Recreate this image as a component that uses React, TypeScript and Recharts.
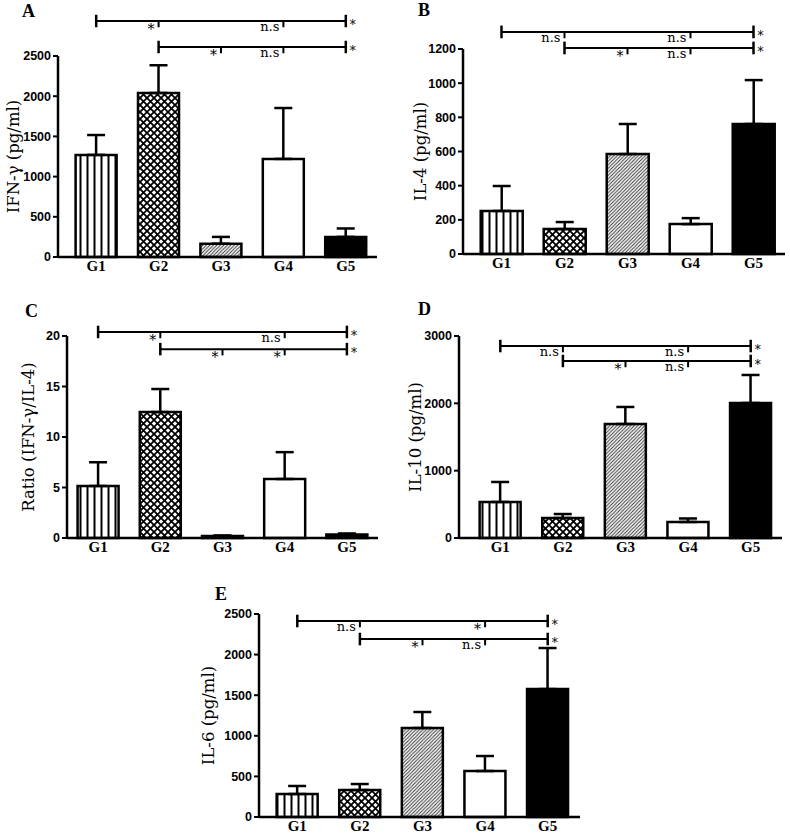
import { BarChart, Bar, XAxis, YAxis, ErrorBar, Cell, ReferenceLine, ReferenceDot } from 'recharts'

const groups = ['G1', 'G2', 'G3', 'G4', 'G5']

// A: IFN-γ
const ifnMean = [1270, 2040, 165, 1220, 250]
const ifnSem = [247, 345, 85, 633, 105]
const ifnTicks = [0, 500, 1000, 1500, 2000, 2500]
const ifnSig = [['*', 'n.s', '*'], ['*', 'n.s', '*']]

// B: IL-4
const il4Mean = [252, 146, 585, 175, 761]
const il4Sem = [146, 41, 176, 35, 257]
const il4Ticks = [0, 200, 400, 600, 800, 1000, 1200]
const il4Sig = [['n.s', 'n.s', '*'], ['*', 'n.s', '*']]

// C: IFN-γ / IL-4 ratio
const ratioMean = [5.15, 12.47, 0.2, 5.84, 0.35]
const ratioSem = [2.35, 2.28, 0.05, 2.66, 0.1]
const ratioTicks = [0, 5, 10, 15, 20]
const ratioSig = [['*', 'n.s', '*'], ['*', '*', '*']]

// D: IL-10
const il10Mean = [535, 297, 1693, 238, 2005]
const il10Sem = [297, 59, 253, 52, 416]
const il10Ticks = [0, 1000, 2000, 3000]
const il10Sig = [['n.s', 'n.s', '*'], ['*', 'n.s', '*']]

// E: IL-6
const il6Mean = [283, 332, 1096, 566, 1576]
const il6Sem = [99, 74, 197, 185, 505]
const il6Ticks = [0, 500, 1000, 1500, 2000, 2500]
const il6Sig = [['n.s', '*', '*'], ['*', 'n.s', '*']]

// comparison brackets: start group, inner ticks, end group
const bracketRows = [
  { from: 'G1', inner: ['G2', 'G4'], to: 'G5' },
  { from: 'G2', inner: ['G3', 'G4'], to: 'G5' },
]

const SERIF = '"Liberation Serif", "DejaVu Serif", serif'
const WIDE_SERIF = '"DejaVu Serif", "Liberation Serif", serif'
const SANS = '"Liberation Sans", Arial, sans-serif'

interface Box { left: number; top: number; width: number; height: number }
interface Plot { left: number; top: number; right: number; bottom: number }

interface PanelProps {
  id: string
  letter: string
  mean: number[]
  sem: number[]
  ticks: number[]
  sig: string[][]
  yLabel: string
  box: Box
  plot: Plot
  levels: number[]
  padLeft: number
  padRight: number
  labelX: number
  letterPos: [number, number]
}

function Patterns({ id }: { id: string }) {
  return (
    <defs>
      <pattern id={`${id}-vs`} patternUnits="userSpaceOnUse" width={7} height={7}>
        <rect width={7} height={7} fill="#fff" />
        <line x1={3.5} y1={0} x2={3.5} y2={7} stroke="#000" strokeWidth={2} />
      </pattern>
      <pattern id={`${id}-cx`} patternUnits="userSpaceOnUse" width={7} height={7}>
        <rect width={7} height={7} fill="#fff" />
        <path d="M-1,-1 L8,8 M8,-1 L-1,8" stroke="#000" strokeWidth={1.8} />
      </pattern>
      <pattern id={`${id}-dg`} patternUnits="userSpaceOnUse" width={3.5} height={3.5}>
        <rect width={3.5} height={3.5} fill="#fff" />
        <path d="M0,3.5 L3.5,0 M-1,1 L1,-1 M2.5,4.5 L4.5,2.5" stroke="#333" strokeWidth={1} />
      </pattern>
    </defs>
  )
}

function Panel(p: PanelProps) {
  const data = groups.map((g, i) => ({ g, v: p.mean[i], e: [0, p.sem[i]] }))
  const max = p.ticks[p.ticks.length - 1]
  const tickH = max * 0.031
  const fills = [`url(#${p.id}-vs)`, `url(#${p.id}-cx)`, `url(#${p.id}-dg)`, '#fff', '#000']
  const xh = 22
  const margin = {
    top: p.plot.top - p.box.top,
    right: p.box.left + p.box.width - p.plot.right,
    bottom: p.box.top + p.box.height - p.plot.bottom - xh,
    left: 0,
  }
  const sigText = (t: string) => ({ fontFamily: WIDE_SERIF, fontSize: t === '*' ? 14 : 13, fill: '#000' })
  const endText = { fontFamily: WIDE_SERIF, fontSize: 12, fill: '#000' }

  return (
    <>
      <div
        style={{
          position: 'absolute',
          left: p.letterPos[0],
          top: p.letterPos[1],
          fontFamily: SERIF,
          fontWeight: 'bold',
          fontSize: 18,
          lineHeight: 1,
        }}
      >
        {p.letter}
      </div>
      <div style={{ position: 'absolute', left: p.box.left, top: p.box.top }}>
        <BarChart width={p.box.width} height={p.box.height} data={data} margin={margin} barCategoryGap="17%">
          <Patterns id={p.id} />
          <XAxis
            dataKey="g"
            height={xh}
            tickLine={false}
            tickSize={0}
            tickMargin={3}
            padding={{ left: p.padLeft, right: p.padRight }}
            axisLine={{ stroke: '#000', strokeWidth: 2.5 }}
            tick={{ fontFamily: SERIF, fontSize: 15, fontWeight: 'bold', fill: '#000' }}
          />
          <YAxis
            width={p.plot.left - p.box.left}
            domain={[0, max]}
            ticks={p.ticks}
            interval={0}
            tickSize={5}
            tickMargin={2}
            axisLine={{ stroke: '#000', strokeWidth: 2.5 }}
            tickLine={{ stroke: '#000', strokeWidth: 2 }}
            tick={{ fontFamily: SANS, fontSize: 12.5, fontWeight: 'bold', fill: '#000' }}
            label={{
              value: p.yLabel,
              angle: -90,
              position: 'insideLeft',
              offset: p.labelX - p.box.left,
              style: { textAnchor: 'middle', fontFamily: WIDE_SERIF, fontSize: 16.5, fill: '#000' },
            }}
          />
          <Bar dataKey="v" stroke="#000" strokeWidth={2.5} isAnimationActive={false}>
            {data.map((d, i) => (
              <Cell key={d.g} fill={fills[i]} />
            ))}
            <ErrorBar dataKey="e" width={9} stroke="#000" strokeWidth={2.5} direction="y" />
          </Bar>
          {bracketRows.map((row, r) => {
            const y = p.levels[r]
            const labels = p.sig[r]
            return [
              <ReferenceLine
                key={`h${r}`}
                segment={[{ x: row.from, y }, { x: row.to, y }]}
                stroke="#000"
                strokeWidth={2}
                ifOverflow="visible"
              />,
              ...[row.from, row.to].map((g) => (
                <ReferenceLine
                  key={`e${r}${g}`}
                  segment={[{ x: g, y: y - tickH }, { x: g, y: y + tickH }]}
                  stroke="#000"
                  strokeWidth={2.5}
                  ifOverflow="visible"
                />
              )),
              ...row.inner.map((g) => (
                <ReferenceLine
                  key={`t${r}${g}`}
                  segment={[{ x: g, y: y - tickH }, { x: g, y }]}
                  stroke="#000"
                  strokeWidth={2}
                  ifOverflow="visible"
                />
              )),
              ...row.inner.map((g, k) => (
                <ReferenceDot
                  key={`l${r}${g}`}
                  x={g}
                  y={y}
                  r={0}
                  ifOverflow="visible"
                  shape={(s: any) => (
                    <text
                      x={s.cx - 4}
                      y={s.cy + (labels[k] === '*' ? 13 : 10)}
                      textAnchor="end"
                      style={sigText(labels[k])}
                    >
                      {labels[k]}
                    </text>
                  )}
                />
              )),
              <ReferenceDot
                key={`r${r}`}
                x={row.to}
                y={y}
                r={0}
                ifOverflow="visible"
                shape={(s: any) => (
                  <text x={s.cx + 4} y={s.cy + 8} textAnchor="start" style={endText}>
                    {labels[2]}
                  </text>
                )}
              />,
            ]
          })}
        </BarChart>
      </div>
    </>
  )
}

export default function App() {
  return (
    <div style={{ position: 'absolute', left: 0, top: 0, width: 790, height: 838, background: '#fff' }}>
      <Panel
        id="a"
        letter="A"
        mean={ifnMean}
        sem={ifnSem}
        ticks={ifnTicks}
        sig={ifnSig}
        yLabel="IFN-γ (pg/ml)"
        box={{ left: 0, top: 0, width: 390, height: 285 }}
        plot={{ left: 58, top: 56, right: 377, bottom: 257 }}
        levels={[2935, 2612]}
        padLeft={7}
        padRight={0}
        labelX={13}
        letterPos={[22, 2]}
      />
      <Panel
        id="b"
        letter="B"
        mean={il4Mean}
        sem={il4Sem}
        ticks={il4Ticks}
        sig={il4Sig}
        yLabel="IL-4 (pg/ml)"
        box={{ left: 395, top: 0, width: 395, height: 285 }}
        plot={{ left: 463, top: 49, right: 785, bottom: 254 }}
        levels={[1300, 1206]}
        padLeft={7}
        padRight={0}
        labelX={420}
        letterPos={[418, 1]}
      />
      <Panel
        id="c"
        letter="C"
        mean={ratioMean}
        sem={ratioSem}
        ticks={ratioTicks}
        sig={ratioSig}
        yLabel="Ratio (IFN-γ/IL-4)"
        box={{ left: 0, top: 280, width: 390, height: 285 }}
        plot={{ left: 67, top: 336, right: 378, bottom: 538 }}
        levels={[20.4, 18.7]}
        padLeft={0}
        padRight={0}
        labelX={28}
        letterPos={[25, 302]}
      />
      <Panel
        id="d"
        letter="D"
        mean={il10Mean}
        sem={il10Sem}
        ticks={il10Ticks}
        sig={il10Sig}
        yLabel="IL-10 (pg/ml)"
        box={{ left: 395, top: 280, width: 395, height: 285 }}
        plot={{ left: 459, top: 336, right: 782, bottom: 538 }}
        levels={[2851, 2629]}
        padLeft={10}
        padRight={0}
        labelX={415}
        letterPos={[418, 300]}
      />
      <Panel
        id="e"
        letter="E"
        mean={il6Mean}
        sem={il6Sem}
        ticks={il6Ticks}
        sig={il6Sig}
        yLabel="IL-6 (pg/ml)"
        box={{ left: 190, top: 560, width: 400, height: 278 }}
        plot={{ left: 259, top: 614, right: 580, bottom: 817 }}
        levels={[2414, 2192]}
        padLeft={7}
        padRight={1}
        labelX={208}
        letterPos={[215, 585]}
      />
    </div>
  )
}
